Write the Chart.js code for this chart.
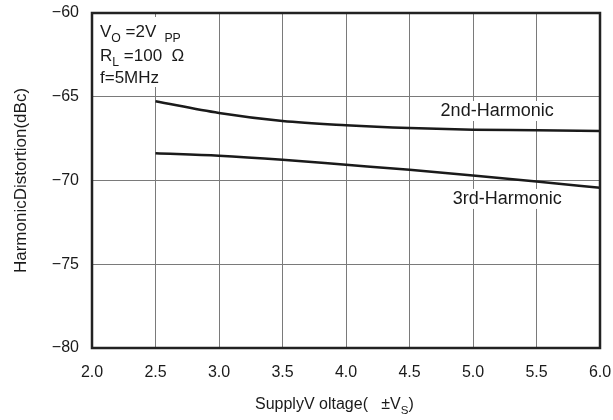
<!DOCTYPE html>
<html>
<head>
<meta charset="utf-8">
<script src="https://cdn.jsdelivr.net/npm/chart.js@4"></script>
<style>
  body { margin: 0; background: #fff; }
  #wrap { width: 613px; height: 420px; }
</style>
</head>
<body>
<div id="wrap"><canvas id="hd" width="613" height="420"></canvas></div>
<script>
// data
const supplyV = [2.5, 3.0, 3.5, 4.0, 4.5, 5.0, 5.5, 6.0];
const hd2 = [-65.27, -65.97, -66.45, -66.7, -66.87, -66.97, -67.0, -67.05];
const hd3 = [-68.37, -68.52, -68.76, -69.06, -69.36, -69.7, -70.06, -70.44];
const xTicks = [2.0, 2.5, 3.0, 3.5, 4.0, 4.5, 5.0, 5.5, 6.0];
const yTicks = [-80, -75, -70, -65, -60];

const FONT = "'Liberation Sans', Arial, sans-serif";

// draws a string made of [text, isSubscript] pieces
function drawRich(ctx, parts, x, y, size) {
  parts.forEach(p => {
    const sub = p[1];
    ctx.font = (sub ? size * 0.72 : size) + "px " + FONT;
    ctx.fillText(p[0], x, sub ? y + size * 0.3 : y);
    x += ctx.measureText(p[0]).width;
  });
}

const extras = {
  id: "extras",
  beforeDatasetsDraw(chart) {
    const { ctx, scales: { x, y } } = chart;
    ctx.save();
    ctx.fillStyle = "#fff";
    // white box behind condition text
    ctx.fillRect(x.left + 2, y.top + 4, 100, 70);
    // white boxes behind curve labels
    ctx.fillRect(x.getPixelForValue(5.19) - 62, y.getPixelForValue(-65.85) - 10, 124, 20);
    ctx.fillRect(x.getPixelForValue(5.27) - 62, y.getPixelForValue(-71.1) - 10, 124, 20);
    ctx.restore();
  },
  afterDatasetsDraw(chart) {
    const { ctx, chartArea: a, scales: { x, y } } = chart;
    ctx.save();
    // frame
    ctx.strokeStyle = "#222";
    ctx.lineWidth = 2.5;
    ctx.strokeRect(a.left, a.top, a.right - a.left, a.bottom - a.top);

    ctx.fillStyle = "#1a1a1a";
    ctx.textBaseline = "alphabetic";
    ctx.textAlign = "left";
    drawRich(ctx, [["V", 0], ["O", 1], [" =2V ", 0], [" PP", 1]], x.left + 8, y.top + 24, 17);
    drawRich(ctx, [["R", 0], ["L", 1], [" =100  \u03A9", 0]], x.left + 8, y.top + 48, 17);
    drawRich(ctx, [["f=5MHz", 0]], x.left + 8, y.top + 70, 17);

    ctx.textAlign = "center";
    ctx.textBaseline = "middle";
    ctx.font = "18px " + FONT;
    ctx.fillText("2nd-Harmonic", x.getPixelForValue(5.19), y.getPixelForValue(-65.85));
    ctx.fillText("3rd-Harmonic", x.getPixelForValue(5.27), y.getPixelForValue(-71.1));

    // x axis title with subscript
    ctx.textAlign = "left";
    ctx.textBaseline = "alphabetic";
    drawRich(ctx, [["SupplyV oltage(   \u00B1V", 0], ["S", 1], [")", 0]], 255, 409, 16);
    ctx.restore();
  }
};

new Chart(document.getElementById("hd"), {
  type: "line",
  data: {
    datasets: [
      { label: "2nd-Harmonic", data: supplyV.map((v, i) => ({ x: v, y: hd2[i] })) },
      { label: "3rd-Harmonic", data: supplyV.map((v, i) => ({ x: v, y: hd3[i] })) }
    ]
  },
  options: {
    responsive: false,
    animation: false,
    layout: { padding: { left: 0, right: 13, top: 13, bottom: 0 } },
    elements: {
      line: { borderColor: "#1a1a1a", borderWidth: 2.5, cubicInterpolationMode: "monotone", fill: false },
      point: { radius: 0 }
    },
    plugins: { legend: { display: false }, tooltip: { enabled: false } },
    scales: {
      x: {
        type: "linear",
        min: xTicks[0],
        max: xTicks[xTicks.length - 1],
        afterBuildTicks: s => { s.ticks = xTicks.map(v => ({ value: v })); },
        afterFit: s => { s.height = 72; s.paddingLeft = 0; s.paddingRight = 0; },
        grid: { color: "#7a7a7a", lineWidth: 1, drawTicks: false },
        border: { display: false },
        ticks: {
          padding: 15,
          color: "#1a1a1a",
          font: { family: FONT, size: 16 },
          callback: v => v.toFixed(1)
        }
      },
      y: {
        min: yTicks[0],
        max: yTicks[yTicks.length - 1],
        afterBuildTicks: s => { s.ticks = yTicks.map(v => ({ value: v })); },
        afterFit: s => { s.width = 92; s.paddingTop = 0; s.paddingBottom = 0; },
        grid: { color: "#7a7a7a", lineWidth: 1, drawTicks: false },
        border: { display: false },
        ticks: {
          padding: 13,
          color: "#1a1a1a",
          font: { family: FONT, size: 16 },
          callback: v => String(v).replace("-", "\u2212")
        },
        title: {
          display: true,
          text: "HarmonicDistortion(dBc)",
          color: "#1a1a1a",
          font: { family: FONT, size: 17 },
          padding: { top: 11, bottom: 0 }
        }
      }
    }
  },
  plugins: [extras]
});
</script>
</body>
</html>
